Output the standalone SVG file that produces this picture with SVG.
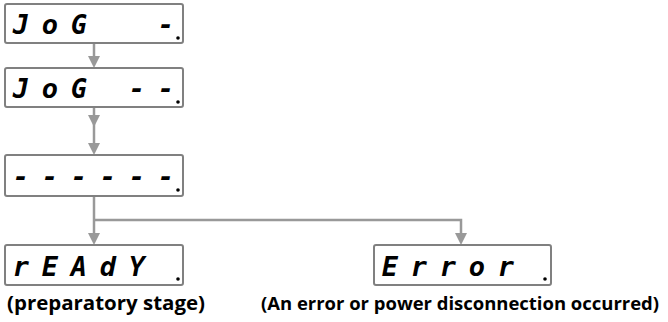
<svg xmlns="http://www.w3.org/2000/svg" width="668" height="322" viewBox="0 0 668 322">
<style>
.box{fill:#fff;stroke:#808080;stroke-width:2}
.seg{font-family:"DejaVu Sans Mono",monospace;font-weight:bold;font-style:italic;font-size:27px;fill:#000;text-anchor:middle}
.dp{fill:#000}
.conn{fill:none;stroke:#999;stroke-width:2.5}
.head{fill:#999}
.lbl{font-family:"Open Sans",sans-serif;font-weight:bold;font-size:18.5px;fill:#000}
</style>
<g id="connectors">
<line class="conn" x1="94" y1="43" x2="94" y2="58"/>
<polygon class="head" points="88,56 100,56 94,68"/>
<line class="conn" x1="94" y1="107" x2="94" y2="145"/>
<polygon class="head" points="88,115 100,115 94,127"/>
<polygon class="head" points="88,143 100,143 94,155"/>
<path class="conn" d="M94,196 V235"/>
<path class="conn" d="M94,220 H461 V235"/>
<polygon class="head" points="88,233 100,233 94,245"/>
<polygon class="head" points="455,233 467,233 461,245"/>
</g>
<g id="jog1">
<rect class="box" x="5" y="4" width="178" height="39" rx="2"/>
<text class="seg" x="21 50 79 166" y="34">JoG-</text>
<circle class="dp" cx="178" cy="38" r="1.8"/>
</g>
<g id="jog2">
<rect class="box" x="5" y="68" width="178" height="39" rx="2"/>
<text class="seg" x="21 50 79 137 166" y="98">JoG--</text>
<circle class="dp" cx="178" cy="102" r="1.8"/>
</g>
<g id="dashes">
<rect class="box" x="5" y="155" width="178" height="41" rx="2"/>
<text class="seg" x="21 50 79 108 137 166" y="186">------</text>
<circle class="dp" cx="178" cy="190" r="1.8"/>
</g>
<g id="ready">
<rect class="box" x="5" y="245" width="178" height="40" rx="2"/>
<text class="seg" x="21 50 79 108 137" y="276">rEAdY</text>
<circle class="dp" cx="178" cy="279" r="1.8"/>
<text class="lbl" x="7" y="310" style="font-size:20px" textLength="198" lengthAdjust="spacingAndGlyphs">(preparatory stage)</text>
</g>
<g id="error">
<rect class="box" x="374" y="245" width="177" height="40" rx="2"/>
<text class="seg" x="390 419 448 477 506" y="276">Error</text>
<circle class="dp" cx="545" cy="279" r="1.8"/>
<text class="lbl" x="261" y="310" textLength="398" lengthAdjust="spacingAndGlyphs">(An error or power disconnection occurred)</text>
</g>
</svg>
